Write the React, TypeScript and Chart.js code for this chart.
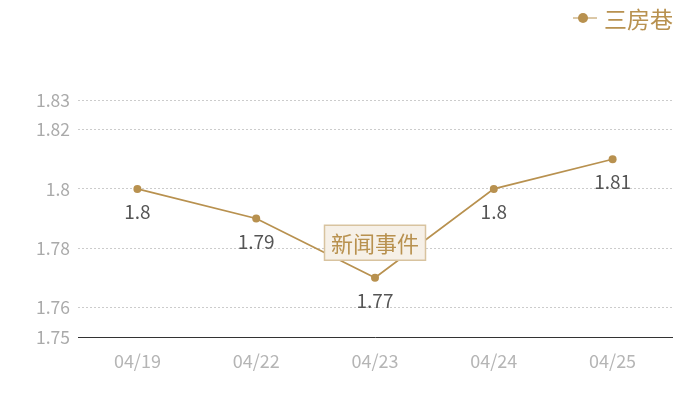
import React, { useEffect, useRef } from 'react';
import { Chart, registerables } from 'chart.js';

Chart.register(...registerables);

const dates = ['04/19', '04/22', '04/23', '04/24', '04/25'];
const prices = [1.8, 1.79, 1.77, 1.8, 1.81];
const yTicks = [1.75, 1.76, 1.78, 1.8, 1.82, 1.83];
const seriesName = '三房巷';
const eventIndex = 2;
const eventText = '新闻事件';

const GOLD = '#b8914f';
const FONT = '"Noto Sans CJK SC", "Noto Sans", sans-serif';

const labelsPlugin = {
  id: 'pointLabels',
  afterDatasetsDraw(chart: any) {
    const ctx = chart.ctx;
    const meta = chart.getDatasetMeta(0);
    ctx.save();
    ctx.font = `19px ${FONT}`;
    ctx.fillStyle = '#555';
    ctx.textAlign = 'center';
    ctx.textBaseline = 'middle';
    meta.data.forEach((pt: any, i: number) => {
      ctx.fillText(String(prices[i]), pt.x, pt.y + 23);
    });

    // event marker
    const ev = meta.data[eventIndex];
    const bx = ev.x;
    const by = ev.y - 35;
    ctx.font = `22px ${FONT}`;
    const w = 101;
    const h = 35;
    ctx.fillStyle = '#f6f0e7';
    ctx.strokeStyle = '#d8c39f';
    ctx.lineWidth = 1.5;
    ctx.fillRect(bx - w / 2, by - h / 2, w, h);
    ctx.strokeRect(bx - w / 2, by - h / 2, w, h);
    ctx.fillStyle = GOLD;
    ctx.fillText(eventText, bx, by + 1);

    // legend
    const lx = 604;
    const ly = 18;
    ctx.strokeStyle = GOLD;
    ctx.lineWidth = 1;
    ctx.beginPath();
    ctx.moveTo(lx - 31, ly);
    ctx.lineTo(lx - 7, ly);
    ctx.stroke();
    ctx.fillStyle = GOLD;
    ctx.beginPath();
    ctx.arc(lx - 21, ly, 5, 0, Math.PI * 2);
    ctx.fill();
    ctx.textAlign = 'left';
    ctx.font = `23px ${FONT}`;
    ctx.fillText(seriesName, lx, ly + 1);
    ctx.restore();
  },
};

const App: React.FC = () => {
  const canvasRef = useRef<HTMLCanvasElement>(null);

  useEffect(() => {
    document.body.style.margin = '0';
    if (!canvasRef.current) return;
    const chart = new Chart(canvasRef.current, {
      type: 'line',
      data: {
        labels: dates,
        datasets: [
          {
            label: seriesName,
            data: prices,
            borderColor: GOLD,
            backgroundColor: GOLD,
            borderWidth: 1.8,
            pointRadius: 4,
            pointBackgroundColor: GOLD,
            pointBorderWidth: 0,
            tension: 0,
          },
        ],
      },
      options: {
        animation: false,
        responsive: false,
        layout: { padding: { top: 100, right: 28, left: 0, bottom: 0 } },
        plugins: { legend: { display: false }, tooltip: { enabled: false } },
        scales: {
          x: {
            offset: true,
            grid: { display: false, drawTicks: false },
            border: { display: true, color: '#333', width: 1 },
            ticks: { color: '#b5b5b5', font: { family: FONT, size: 18 }, padding: 13 },
            afterFit(scale: any) {
              scale.height = 63;
            },
          },
          y: {
            min: 1.75,
            max: 1.83,
            afterBuildTicks(scale: any) {
              scale.ticks = yTicks.map((v) => ({ value: v }));
            },
            afterFit(scale: any) {
              scale.width = 78;
            },
            border: { display: false, dash: [2, 2] },
            grid: {
              drawTicks: false,
              color: (c: any) => (c.tick && c.tick.value === 1.75 ? 'rgba(0,0,0,0)' : '#cccccc'),
              lineWidth: 1,
            },
            ticks: {
              color: '#aaaaaa',
              font: { family: FONT, size: 17.5 },
              padding: 8,
              callback: (v: any) => String(Math.round(Number(v) * 100) / 100),
            },
          },
        },
      },
      plugins: [labelsPlugin],
    } as any);
    return () => chart.destroy();
  }, []);

  return (
    <div style={{ position: 'absolute', left: 0, top: 0, width: 700, height: 400 }}>
      <canvas ref={canvasRef} width={700} height={400} />
    </div>
  );
};

export default App;
